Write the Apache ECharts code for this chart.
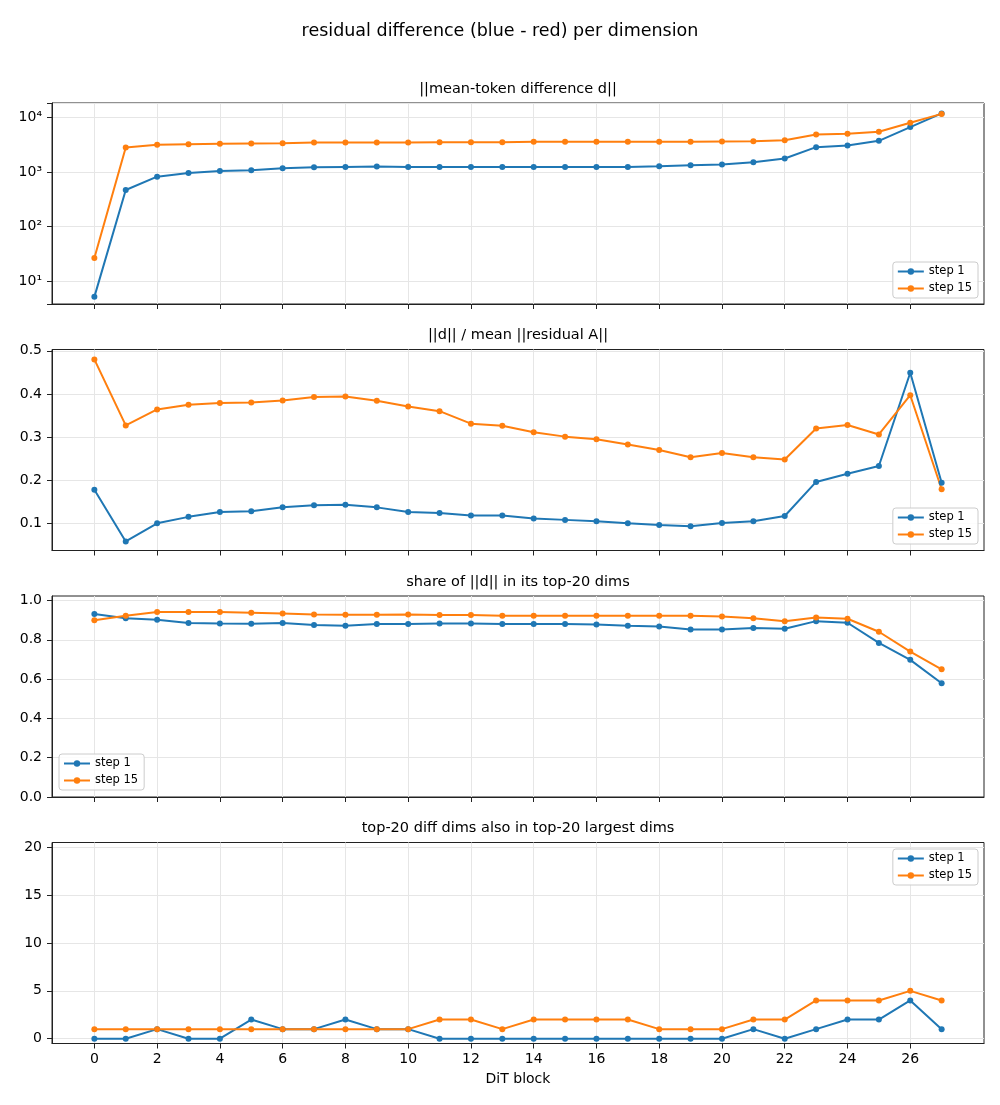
<!DOCTYPE html>
<html>
<head>
<meta charset="utf-8">
<script src="https://cdn.jsdelivr.net/npm/echarts@6/dist/echarts.min.js"></script>
<style>
  html, body { margin: 0; padding: 0; background: #fff; }
  #main { width: 1000px; height: 1105px; }
</style>
</head>
<body>
<div id="main"></div>
<script>
// DiT block index on the x axis
var blocks = [0, 1, 2, 3, 4, 5, 6, 7, 8, 9, 10, 11, 12, 13, 14, 15, 16, 17, 18, 19, 20, 21, 22, 23, 24, 25, 26, 27];
var xTicks = [0, 2, 4, 6, 8, 10, 12, 14, 16, 18, 20, 22, 24, 26];

// ||mean-token difference d||
var normStep1 = [5.2, 468, 820, 960, 1043, 1073, 1167, 1218, 1235, 1250, 1235, 1235, 1235, 1235, 1235, 1235, 1235, 1235, 1271, 1326, 1364, 1504, 1758, 2837, 3043, 3705, 6610, 11750];
var normStep15 = [26.8, 2795, 3126, 3220, 3268, 3312, 3360, 3453, 3453, 3453, 3453, 3500, 3500, 3500, 3550, 3550, 3550, 3550, 3550, 3550, 3605, 3655, 3805, 4840, 4980, 5420, 7940, 11500];

// ||d|| / mean ||residual A||
var ratioStep1 = [0.178, 0.058, 0.100, 0.115, 0.126, 0.128, 0.137, 0.142, 0.143, 0.137, 0.126, 0.124, 0.118, 0.118, 0.111, 0.108, 0.105, 0.100, 0.096, 0.093, 0.101, 0.105, 0.117, 0.196, 0.215, 0.233, 0.449, 0.194];
var ratioStep15 = [0.480, 0.327, 0.364, 0.375, 0.379, 0.380, 0.385, 0.393, 0.394, 0.384, 0.371, 0.360, 0.331, 0.326, 0.311, 0.301, 0.295, 0.283, 0.270, 0.253, 0.263, 0.253, 0.248, 0.320, 0.328, 0.306, 0.397, 0.179];

// share of ||d|| in its top-20 dims
var shareStep1 = [0.931, 0.910, 0.902, 0.885, 0.883, 0.882, 0.885, 0.875, 0.872, 0.880, 0.880, 0.883, 0.883, 0.880, 0.880, 0.880, 0.878, 0.872, 0.868, 0.853, 0.853, 0.860, 0.856, 0.895, 0.887, 0.784, 0.698, 0.579];
var shareStep15 = [0.899, 0.922, 0.941, 0.941, 0.941, 0.938, 0.934, 0.929, 0.927, 0.927, 0.929, 0.926, 0.926, 0.922, 0.922, 0.922, 0.922, 0.922, 0.922, 0.922, 0.919, 0.910, 0.894, 0.914, 0.907, 0.841, 0.740, 0.650];

// top-20 diff dims also in top-20 largest dims
var overlapStep1 = [0, 0, 1, 0, 0, 2, 1, 1, 2, 1, 1, 0, 0, 0, 0, 0, 0, 0, 0, 0, 0, 1, 0, 1, 2, 2, 4, 1];
var overlapStep15 = [1, 1, 1, 1, 1, 1, 1, 1, 1, 1, 1, 2, 2, 1, 2, 2, 2, 2, 1, 1, 1, 2, 2, 4, 4, 4, 5, 4];

var titles = ['||mean-token difference d||', '||d|| / mean ||residual A||', 'share of ||d|| in its top-20 dims', 'top-20 diff dims also in top-20 largest dims'];

var BLUE = '#1f77b4', ORANGE = '#ff7f0e';
var FONT = 'DejaVu Sans';
var gridLeft = 52, gridW = 932, gridH = 201;
var gridTops = [103, 349.5, 596, 842.5];

function pairs(arr) {
  var out = [];
  for (var i = 0; i < blocks.length; i++) out.push([blocks[i], arr[i]]);
  return out;
}

var sup = {'0': '\u2070', '1': '\u00b9', '2': '\u00b2', '3': '\u00b3', '4': '\u2074', '5': '\u2075'};
function logLabel(v) {
  var e = Math.log10(v);
  if (Math.abs(e - Math.round(e)) > 1e-6) return '';
  return '10' + String(Math.round(e)).split('').map(function (c) { return sup[c]; }).join('');
}

var grids = [], xAxes = [], yAxes = [], series = [], legends = [], graphics = [];

for (var p = 0; p < 4; p++) {
  grids.push({ left: gridLeft, top: gridTops[p], width: gridW, height: gridH,
    show: true, borderColor: '#222', borderWidth: 1, backgroundColor: '#fff' });

  xAxes.push({
    type: 'value', gridIndex: p, min: -1.35, max: 28.35,
    axisLine: { onZero: false, lineStyle: { color: '#222', width: 1 } },
    axisTick: { show: true, length: 5, customValues: xTicks, lineStyle: { color: '#222' } },
    axisLabel: { show: p === 3, customValues: xTicks, margin: 9, fontFamily: FONT, fontSize: 14, color: '#000' },
    splitLine: { show: true, lineStyle: { color: '#e6e6e6', width: 1 } },
    name: p === 3 ? 'DiT block' : '', nameLocation: 'middle', nameGap: 29,
    nameTextStyle: { fontFamily: FONT, fontSize: 14, color: '#000' }
  });

  graphics.push({ type: 'text',
    style: { text: titles[p], x: gridLeft + gridW / 2, y: gridTops[p] - 14,
      textAlign: 'center', textVerticalAlign: 'middle',
      font: '14.5px "DejaVu Sans"', fill: '#000' } });
}

var yCommon = {
  axisLine: { show: true, onZero: false, lineStyle: { color: '#222', width: 1 } },
  axisTick: { show: true, length: 5, lineStyle: { color: '#222' } },
  splitLine: { show: true, lineStyle: { color: '#e6e6e6', width: 1 } }
};
function yAxis(p, extra) {
  var a = { gridIndex: p };
  for (var k in yCommon) a[k] = JSON.parse(JSON.stringify(yCommon[k]));
  for (var k2 in extra) a[k2] = extra[k2];
  return a;
}
var lbl = { margin: 10, fontFamily: FONT, fontSize: 14, color: '#000' };
function withLbl(o) { var r = {}; for (var k in lbl) r[k] = lbl[k]; for (var k2 in o) r[k2] = o[k2]; return r; }

yAxes.push(yAxis(0, { type: 'log', logBase: 10, min: 3.85, max: 18200,
  axisLabel: withLbl({ formatter: logLabel }) }));
yAxes.push(yAxis(1, { type: 'value', min: 0.037, max: 0.503,
  axisLabel: withLbl({ customValues: [0.1, 0.2, 0.3, 0.4, 0.5], formatter: function (v) { return v.toFixed(1); } }) }));
yAxes[1].axisTick.customValues = [0.1, 0.2, 0.3, 0.4, 0.5];
yAxes.push(yAxis(2, { type: 'value', min: 0, max: 1.023,
  axisLabel: withLbl({ customValues: [0, 0.2, 0.4, 0.6, 0.8, 1.0], formatter: function (v) { return v.toFixed(1); } }) }));
yAxes[2].axisTick.customValues = [0, 0.2, 0.4, 0.6, 0.8, 1.0];
yAxes.push(yAxis(3, { type: 'value', min: -0.5, max: 20.5,
  axisLabel: withLbl({ customValues: [0, 5, 10, 15, 20] }) }));
yAxes[3].axisTick.customValues = [0, 5, 10, 15, 20];

var sets = [[normStep1, normStep15], [ratioStep1, ratioStep15], [shareStep1, shareStep15], [overlapStep1, overlapStep15]];
for (var s = 0; s < 4; s++) {
  series.push({ name: 'step 1', type: 'line', xAxisIndex: s, yAxisIndex: s, data: pairs(sets[s][0]),
    symbol: 'circle', symbolSize: 6, showSymbol: true, animation: false,
    lineStyle: { color: BLUE, width: 2 }, itemStyle: { color: BLUE } });
  series.push({ name: 'step 15', type: 'line', xAxisIndex: s, yAxisIndex: s, data: pairs(sets[s][1]),
    symbol: 'circle', symbolSize: 6, showSymbol: true, animation: false,
    lineStyle: { color: ORANGE, width: 2 }, itemStyle: { color: ORANGE } });
}

var legendPos = [
  { right: 22, top: 262 },
  { right: 22, top: 508 },
  { left: 59, top: 754 },
  { right: 22, top: 849 }
];
for (var l = 0; l < 4; l++) {
  var lg = { orient: 'vertical', data: ['step 1', 'step 15'], itemWidth: 26, itemHeight: 8, itemGap: 4,
    padding: [3, 6, 3, 4], borderColor: '#cccccc', borderWidth: 1, borderRadius: 3,
    backgroundColor: 'rgba(255,255,255,0.85)', selectedMode: false,
    textStyle: { fontFamily: FONT, fontSize: 11.5, color: '#000', lineHeight: 13 } };
  for (var k in legendPos[l]) lg[k] = legendPos[l][k];
  legends.push(lg);
}

var chart = echarts.init(document.getElementById('main'), null, { renderer: 'canvas' });
chart.setOption({
  backgroundColor: '#fff',
  animation: false,
  title: { text: 'residual difference (blue - red) per dimension', left: 'center', top: 17,
    textStyle: { fontFamily: FONT, fontSize: 17.5, fontWeight: 'normal', color: '#000' } },
  graphic: graphics,
  legend: legends,
  grid: grids,
  xAxis: xAxes,
  yAxis: yAxes,
  series: series
});
</script>
</body>
</html>
